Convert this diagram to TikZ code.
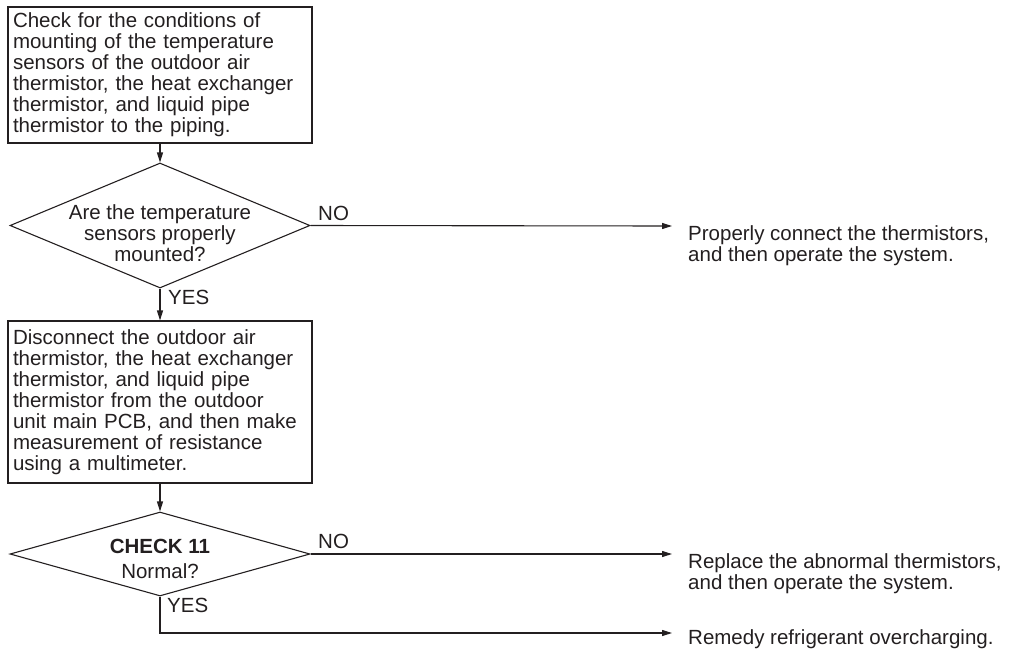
\documentclass[tikz,border=0pt]{standalone}
\usepackage{fontspec}
\setmainfont{Liberation Sans}
\usetikzlibrary{shapes.geometric,arrows.meta}
\definecolor{ink}{RGB}{35,31,32}
\tikzset{
  every node/.style={text=ink},
  txt/.style={font=\fontsize{20.5}{21}\selectfont},
  procbox/.style={draw=ink, line width=1.1pt, rectangle, txt, align=left,
    text width=294pt, inner xsep=5pt, inner ysep=0pt},
  dia/.style={draw=ink, line width=1.1pt, diamond, minimum width=300pt, inner sep=0pt},
  lbl/.style={txt, inner sep=0pt},
  arr/.style={draw=ink, line width=1.1pt, -{Triangle[length=10pt,width=6pt]}},
  ln/.style={draw=ink, line width=1.1pt},
}
\begin{document}
\begin{tikzpicture}[x=1pt,y=-1pt]
\useasboundingbox (0,0) rectangle (1023,651);

\node[procbox, minimum height=136pt] (b1) at (160,75) {Check for the conditions of\\mounting of the temperature\\sensors of the outdoor air\\thermistor, the heat exchanger\\thermistor, and liquid pipe\\thermistor to the piping.};

\node[dia, minimum height=125pt] (d1) at (160,225.5) {};
\node[lbl, align=center] (t1) at (160,233) {Are the temperature\\sensors properly\\mounted?};

\node[procbox, minimum height=162pt] (b2) at (160,402) {Disconnect the outdoor air\\thermistor, the heat exchanger\\thermistor, and liquid pipe\\thermistor from the outdoor\\unit main PCB, and then make\\measurement of resistance\\using a multimeter.};

\node[dia, minimum height=84pt] (d2) at (160,554) {};
\node[lbl, align=center] (t2) at (160,558.5) {\textbf{CHECK 11}\\[4pt]Normal?};

\coordinate (e1) at (672,226);
\coordinate (e2) at (672,554);
\coordinate (e3) at (672,633);

\node[lbl, align=left, anchor=north west] (r1) at (688,225) {Properly connect the thermistors,\\and then operate the system.};
\node[lbl, align=left, anchor=north west] (r2) at (688,553) {Replace the abnormal thermistors,\\and then operate the system.};
\node[lbl, align=left, anchor=north west] (r3) at (688,629) {Remedy refrigerant overcharging.};

\node[lbl, anchor=west] (no1) at (318,213) {NO};
\node[lbl, anchor=west] (no2) at (318,541) {NO};
\node[lbl, anchor=west] (yes1) at (168,297) {YES};
\node[lbl, anchor=west] (yes2) at (167,605) {YES};

\draw[arr] (b1.south) -- (d1.north);
\draw[arr] (d1.south) -- (b2.north);
\draw[arr] (b2.south) -- (d2.north);
\draw[arr] (d1.east) -- (e1);
\draw[arr] (d2.east) -- (e2);
\draw[arr] (d2.south) |- (e3);
\end{tikzpicture}
\end{document}
